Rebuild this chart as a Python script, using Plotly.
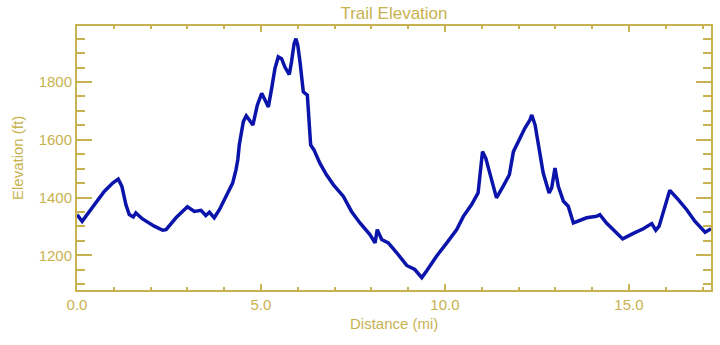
import plotly.graph_objects as go

distance_mi = [0.0, 0.02, 0.14, 0.38, 0.74, 0.97, 1.12, 1.22, 1.33, 1.42, 1.53, 1.6, 1.78, 2.1, 2.33, 2.42,
               2.69, 3.0, 3.19, 3.37, 3.5, 3.6, 3.73, 3.87, 4.05, 4.23, 4.32, 4.37, 4.41, 4.47, 4.52, 4.6,
               4.78, 4.9, 5.02, 5.11, 5.2, 5.29, 5.38, 5.47, 5.56, 5.65, 5.77, 5.83, 5.9, 5.95, 6.0, 6.06,
               6.15, 6.26, 6.31, 6.35, 6.44, 6.6, 6.78, 6.97, 7.24, 7.46, 7.69, 7.96, 8.1, 8.16, 8.28, 8.46,
               8.69, 8.96, 9.18, 9.37, 9.5, 9.77, 10.05, 10.32, 10.5, 10.72, 10.9, 11.02, 11.11, 11.27, 11.4,
               11.58, 11.75, 11.86, 12.04, 12.17, 12.31, 12.36, 12.45, 12.54, 12.67, 12.83, 12.9, 12.99,
               13.08, 13.22, 13.35, 13.49, 13.62, 13.85, 14.12, 14.21, 14.39, 14.62, 14.83, 15.12, 15.39,
               15.62, 15.73, 15.82, 15.98, 16.11, 16.34, 16.57, 16.79, 17.07, 17.23]
elevation_ft = [1340, 1338, 1318, 1358, 1421, 1450, 1464, 1439, 1375, 1341, 1333, 1347, 1326, 1301, 1287, 1289,
                1330, 1368, 1352, 1356, 1338, 1349, 1330, 1358, 1404, 1450, 1496, 1531, 1582, 1628, 1663, 1683,
                1651, 1720, 1761, 1738, 1714, 1778, 1847, 1887, 1881, 1852, 1826, 1870, 1933, 1950, 1927, 1870,
                1766, 1755, 1640, 1582, 1565, 1519, 1479, 1444, 1404, 1352, 1312, 1272, 1243, 1289, 1255, 1243,
                1209, 1165, 1151, 1123, 1146, 1197, 1243, 1289, 1335, 1375, 1416, 1559, 1536, 1462, 1399,
                1439, 1479, 1559, 1606, 1640, 1669, 1686, 1651, 1577, 1485, 1416, 1433, 1502,
                1439, 1387, 1370, 1312, 1318, 1330, 1335, 1341, 1312, 1283, 1257, 1276, 1292,
                1310, 1287, 1301, 1375, 1425, 1393, 1358, 1318, 1280, 1292]

x_ticks = [0, 5, 10, 15]
y_ticks = [1200, 1400, 1600, 1800]

gold = "#C8B250"
font_family = "Liberation Sans, DejaVu Sans, sans-serif"
W, H = 720, 345
L, R, T, B = 77, 9, 26, 55

fig = go.Figure()
fig.add_trace(go.Scatter(x=distance_mi, y=elevation_ft, mode="lines",
                         line=dict(color="#0A14AA", width=3.5), showlegend=False))

axis_common = dict(showline=True, linecolor=gold, linewidth=2, mirror="ticks", ticks="inside",
                   tickcolor=gold, tickwidth=1.5, showgrid=False, zeroline=False, automargin=False,
                   tickfont=dict(family=font_family, size=15, color=gold))

fig.update_xaxes(range=[0, 17.23], tickvals=x_ticks, tickformat=".1f", ticklen=6,
                 minor=dict(dtick=1, ticks="inside", ticklen=3, tickcolor=gold, showgrid=False),
                 **axis_common)
fig.update_yaxes(range=[1080, 1994], tickvals=y_ticks, ticklen=15,
                 minor=dict(dtick=50, tick0=1200, ticks="inside", ticklen=8, tickcolor=gold, showgrid=False),
                 **axis_common)

cx = (L + (W - R)) / 2 / W
fig.update_layout(width=W, height=H, margin=dict(l=L, r=R, t=T, b=B),
                  paper_bgcolor="white", plot_bgcolor="white",
                  title=dict(text="Trail Elevation", x=cx, xanchor="center", y=1 - 13 / H, yanchor="middle",
                             font=dict(family=font_family, size=17, color=gold)),
                  annotations=[
                      dict(text="Distance (mi)", xref="paper", yref="paper", x=0.5, y=-(323 - (H - B)) / (H - T - B),
                           xanchor="center", yanchor="middle", showarrow=False,
                           font=dict(family=font_family, size=15, color=gold)),
                      dict(text="Elevation (ft)", xref="paper", yref="paper", x=-(L - 17) / (W - L - R), y=0.5,
                           xanchor="center", yanchor="middle", textangle=-90, showarrow=False,
                           font=dict(family=font_family, size=15, color=gold)),
                  ])

fig.write_html("out.html", config={"displayModeBar": False},
               post_script="document.body.style.margin='0';document.body.style.overflow='hidden';")
